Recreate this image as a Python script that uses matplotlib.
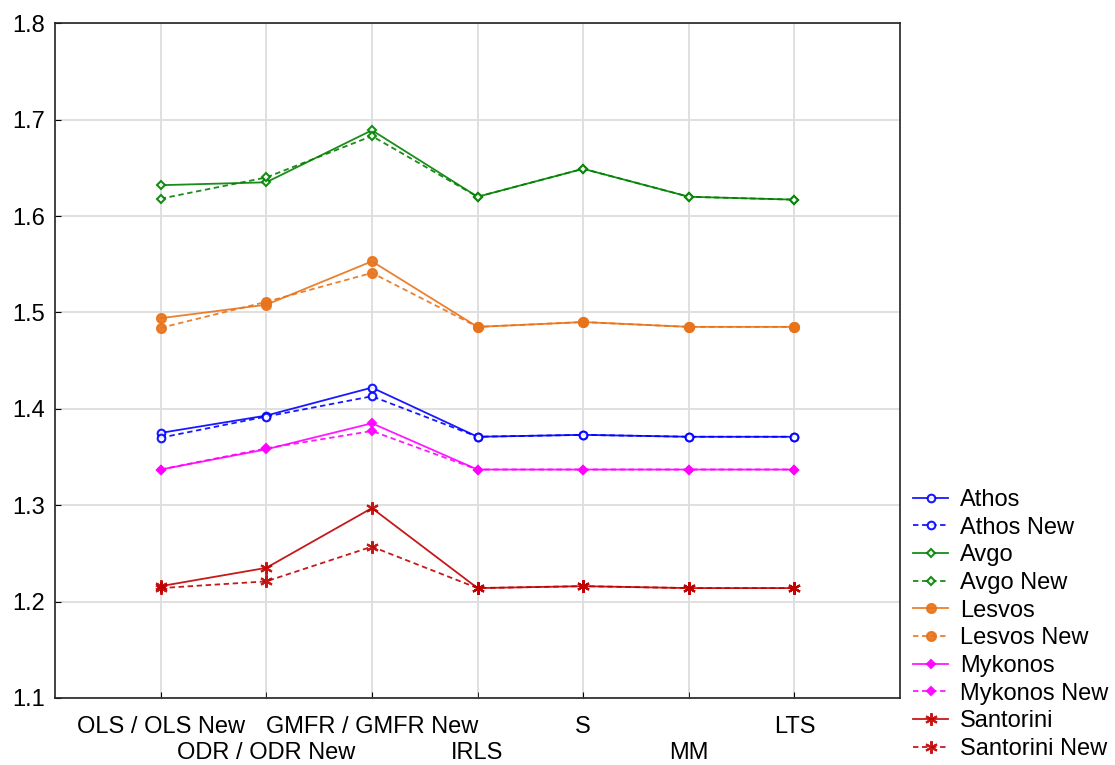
import numpy as np
import matplotlib.pyplot as plt

plt.rcParams['font.family'] = ['Liberation Sans', 'DejaVu Sans']

methods = ['OLS / OLS New', 'ODR / ODR New', 'GMFR / GMFR New', 'IRLS', 'S', 'MM', 'LTS']

athos = [1.375, 1.393, 1.422, 1.371, 1.373, 1.371, 1.371]
athos_new = [1.370, 1.392, 1.413, 1.371, 1.373, 1.371, 1.371]
avgo = [1.632, 1.635, 1.689, 1.620, 1.649, 1.620, 1.617]
avgo_new = [1.618, 1.640, 1.683, 1.620, 1.649, 1.620, 1.617]
lesvos = [1.494, 1.508, 1.553, 1.485, 1.490, 1.485, 1.485]
lesvos_new = [1.484, 1.511, 1.541, 1.485, 1.490, 1.485, 1.485]
mykonos = [1.337, 1.358, 1.385, 1.337, 1.337, 1.337, 1.337]
mykonos_new = [1.337, 1.359, 1.377, 1.337, 1.337, 1.337, 1.337]
santorini = [1.216, 1.235, 1.297, 1.214, 1.216, 1.214, 1.214]
santorini_new = [1.214, 1.221, 1.257, 1.214, 1.216, 1.214, 1.214]

series = [
    ('Athos', athos, '#0000ff', 'o', 'white', 5.5),
    ('Avgo', avgo, '#008000', 'D', 'white', 4.5),
    ('Lesvos', lesvos, '#e8731a', 'o', None, 6.5),
    ('Mykonos', mykonos, '#ff00ff', 'D', None, 4.5),
    ('Santorini', santorini, '#c00000', (6, 2, 0), None, 9),
]
news = {'Athos': athos_new, 'Avgo': avgo_new, 'Lesvos': lesvos_new,
        'Mykonos': mykonos_new, 'Santorini': santorini_new}

fig = plt.figure(figsize=(11.15, 7.65), dpi=100)
ax = fig.add_axes([0.0493, 0.0876, 0.758, 0.882])

x = np.arange(1, len(methods) + 1)
for name, vals, col, mk, fc, ms in series:
    face = fc if fc else col
    ax.plot(x, vals, color=col, lw=1.3, marker=mk, ms=ms, mfc=face,
            mec=col, mew=1.5, label=name, alpha=0.9)
    ax.plot(x, news[name], color=col, lw=1.3, ls=(0, (3, 2)), marker=mk, ms=ms,
            mfc=face, mec=col, mew=1.5, label=name + ' New', alpha=0.9)

ax.set_xlim(0, 8)
ax.set_ylim(1.1, 1.8)
yt = np.arange(1.1, 1.81, 0.1)
ax.set_yticks(yt)
ax.set_yticklabels([f'{v:.1f}' for v in yt])

# labels alternate between two rows: major ticks top row, minor ticks bottom row
ax.set_xticks(x[::2])
ax.set_xticklabels(methods[::2])
ax.set_xticks(x[1::2], minor=True)
ax.set_xticklabels(methods[1::2], minor=True)
ax.tick_params(axis='x', which='major', direction='in', length=4, labelsize=17, pad=13)
ax.tick_params(axis='x', which='minor', direction='in', length=4, labelsize=17, pad=32)
ax.tick_params(axis='y', direction='in', length=4, labelsize=17, pad=7)
ax.grid(True, which='both', color='#dddddd', lw=1.3)
for s in ax.spines.values():
    s.set_color('#222222')
    s.set_linewidth(1.2)

ax.legend(loc='upper left', bbox_to_anchor=(913 / 1115, 1 - 489 / 765),
          bbox_transform=fig.transFigure, frameon=False, borderpad=0,
          borderaxespad=0, fontsize=17, handlelength=1.5, labelspacing=0.24,
          handletextpad=0.5)

fig.savefig('out.png', dpi=100)
